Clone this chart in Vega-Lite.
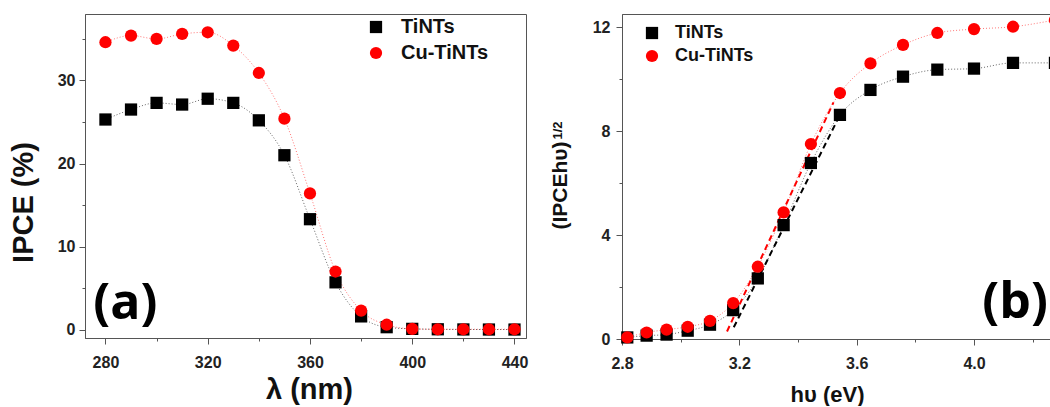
{
  "$schema": "https://vega.github.io/schema/vega-lite/v6.json",
  "background": "white",
  "padding": {"left": 8, "top": 13, "right": 0, "bottom": 0},
  "spacing": 96,
  "bounds": "flush",
  "resolve": {"scale": {"color": "independent", "shape": "independent"}},
  "config": {
    "view": {"stroke": "#555", "strokeWidth": 1},
    "axis": {"labelFont": "Liberation Sans", "labelFontWeight": "bold", "labelFontSize": 16, "labelColor": "#222", "titleFont": "Liberation Sans", "titleFontWeight": "bold", "titleColor": "#111", "domainColor": "#555", "tickColor": "#555", "grid": false, "labelFlush": false, "labelOverlap": false},
    "legend": {"labelFont": "Liberation Sans", "labelFontWeight": "bold", "labelColor": "#111"}
  },
  "datasets": {
    "a": [
      {"nm": 280, "ipce": 25.3, "s": "TiNTs"}, {"nm": 290, "ipce": 26.5, "s": "TiNTs"}, {"nm": 300, "ipce": 27.3, "s": "TiNTs"}, {"nm": 310, "ipce": 27.1, "s": "TiNTs"}, {"nm": 320, "ipce": 27.8, "s": "TiNTs"}, {"nm": 330, "ipce": 27.3, "s": "TiNTs"}, {"nm": 340, "ipce": 25.2, "s": "TiNTs"}, {"nm": 350, "ipce": 21.0, "s": "TiNTs"}, {"nm": 360, "ipce": 13.3, "s": "TiNTs"}, {"nm": 370, "ipce": 5.7, "s": "TiNTs"}, {"nm": 380, "ipce": 1.6, "s": "TiNTs"}, {"nm": 390, "ipce": 0.3, "s": "TiNTs"}, {"nm": 400, "ipce": 0.1, "s": "TiNTs"}, {"nm": 410, "ipce": 0.05, "s": "TiNTs"}, {"nm": 420, "ipce": 0.03, "s": "TiNTs"}, {"nm": 430, "ipce": 0.02, "s": "TiNTs"}, {"nm": 440, "ipce": 0.02, "s": "TiNTs"},
      {"nm": 280, "ipce": 34.6, "s": "Cu-TiNTs"}, {"nm": 290, "ipce": 35.4, "s": "Cu-TiNTs"}, {"nm": 300, "ipce": 35.0, "s": "Cu-TiNTs"}, {"nm": 310, "ipce": 35.6, "s": "Cu-TiNTs"}, {"nm": 320, "ipce": 35.8, "s": "Cu-TiNTs"}, {"nm": 330, "ipce": 34.2, "s": "Cu-TiNTs"}, {"nm": 340, "ipce": 30.9, "s": "Cu-TiNTs"}, {"nm": 350, "ipce": 25.4, "s": "Cu-TiNTs"}, {"nm": 360, "ipce": 16.4, "s": "Cu-TiNTs"}, {"nm": 370, "ipce": 7.0, "s": "Cu-TiNTs"}, {"nm": 380, "ipce": 2.3, "s": "Cu-TiNTs"}, {"nm": 390, "ipce": 0.6, "s": "Cu-TiNTs"}, {"nm": 400, "ipce": 0.1, "s": "Cu-TiNTs"}, {"nm": 410, "ipce": 0.05, "s": "Cu-TiNTs"}, {"nm": 420, "ipce": 0.05, "s": "Cu-TiNTs"}, {"nm": 430, "ipce": 0.05, "s": "Cu-TiNTs"}, {"nm": 440, "ipce": 0.05, "s": "Cu-TiNTs"}
    ],
    "b": [
      {"ev": 2.818, "v": 0.06, "s": "TiNTs"}, {"ev": 2.884, "v": 0.13, "s": "TiNTs"}, {"ev": 2.952, "v": 0.17, "s": "TiNTs"}, {"ev": 3.024, "v": 0.32, "s": "TiNTs"}, {"ev": 3.100, "v": 0.55, "s": "TiNTs"}, {"ev": 3.179, "v": 1.11, "s": "TiNTs"}, {"ev": 3.263, "v": 2.33, "s": "TiNTs"}, {"ev": 3.351, "v": 4.38, "s": "TiNTs"}, {"ev": 3.444, "v": 6.77, "s": "TiNTs"}, {"ev": 3.543, "v": 8.62, "s": "TiNTs"}, {"ev": 3.647, "v": 9.58, "s": "TiNTs"}, {"ev": 3.758, "v": 10.09, "s": "TiNTs"}, {"ev": 3.875, "v": 10.36, "s": "TiNTs"}, {"ev": 4.000, "v": 10.40, "s": "TiNTs"}, {"ev": 4.133, "v": 10.62, "s": "TiNTs"}, {"ev": 4.276, "v": 10.62, "s": "TiNTs"},
      {"ev": 2.818, "v": 0.06, "s": "Cu-TiNTs"}, {"ev": 2.884, "v": 0.25, "s": "Cu-TiNTs"}, {"ev": 2.952, "v": 0.36, "s": "Cu-TiNTs"}, {"ev": 3.024, "v": 0.47, "s": "Cu-TiNTs"}, {"ev": 3.100, "v": 0.70, "s": "Cu-TiNTs"}, {"ev": 3.179, "v": 1.38, "s": "Cu-TiNTs"}, {"ev": 3.263, "v": 2.78, "s": "Cu-TiNTs"}, {"ev": 3.351, "v": 4.87, "s": "Cu-TiNTs"}, {"ev": 3.444, "v": 7.5, "s": "Cu-TiNTs"}, {"ev": 3.543, "v": 9.46, "s": "Cu-TiNTs"}, {"ev": 3.647, "v": 10.6, "s": "Cu-TiNTs"}, {"ev": 3.758, "v": 11.31, "s": "Cu-TiNTs"}, {"ev": 3.875, "v": 11.77, "s": "Cu-TiNTs"}, {"ev": 4.000, "v": 11.92, "s": "Cu-TiNTs"}, {"ev": 4.133, "v": 12.01, "s": "Cu-TiNTs"}, {"ev": 4.276, "v": 12.27, "s": "Cu-TiNTs"}
    ],
    "fit": [
      {"ev": 3.181, "v": 0.45, "s": "TiNTs"}, {"ev": 3.533, "v": 8.39, "s": "TiNTs"},
      {"ev": 3.158, "v": 0.29, "s": "Cu-TiNTs"}, {"ev": 3.521, "v": 9.1, "s": "Cu-TiNTs"}
    ]
  },
  "hconcat": [
    {
      "width": 441,
      "height": 324,
      "layer": [
        {
          "data": {"name": "a"},
          "transform": [{"filter": "datum.s === 'TiNTs'"}],
          "mark": {"type": "line", "strokeDash": [1, 2], "strokeWidth": 1, "color": "#666", "interpolate": "monotone"},
          "encoding": {
            "x": {"field": "nm", "type": "quantitative", "scale": {"domain": [272, 444.5], "nice": false, "zero": false},
              "axis": {"title": "λ (nm)", "values": [280, 300, 320, 340, 360, 380, 400, 420, 440], "labelExpr": "datum.value % 40 === 0 ? datum.label : ''", "tickSize": {"condition": {"test": "datum.value % 40 === 0", "value": 6}, "value": 3}, "labelPadding": 10, "titleFontSize": 29, "titlePadding": 5, "titleX": 224}},
            "y": {"field": "ipce", "type": "quantitative", "scale": {"domain": [-1, 38], "nice": false, "zero": false},
              "axis": {"title": "IPCE (%)", "values": [0, 5, 10, 15, 20, 25, 30, 35], "labelExpr": "datum.value % 10 === 0 ? datum.label : ''", "tickSize": {"condition": {"test": "datum.value % 10 === 0", "value": 6}, "value": 3}, "labelPadding": 4, "titleFontSize": 29, "titleX": -62, "titleY": 188, "titleBaseline": "middle"}}
          }
        },
        {
          "data": {"name": "a"},
          "transform": [{"filter": "datum.s === 'Cu-TiNTs'"}],
          "mark": {"type": "line", "strokeDash": [1, 2], "strokeWidth": 1, "color": "#ff7777", "interpolate": "monotone"},
          "encoding": {
            "x": {"field": "nm", "type": "quantitative"},
            "y": {"field": "ipce", "type": "quantitative"}
          }
        },
        {
          "data": {"name": "a"},
          "mark": {"type": "point", "filled": true, "opacity": 1, "size": 150, "strokeWidth": 0},
          "encoding": {
            "x": {"field": "nm", "type": "quantitative"},
            "y": {"field": "ipce", "type": "quantitative"},
            "color": {"field": "s", "type": "nominal", "scale": {"domain": ["TiNTs", "Cu-TiNTs"], "range": ["#000000", "#ff0000"]},
              "legend": {"title": null, "orient": "none", "legendX": 281, "legendY": 3, "padding": 0, "labelFontSize": 20, "symbolSize": 150, "symbolStrokeWidth": 0, "labelOffset": 15, "rowPadding": 6}},
            "shape": {"field": "s", "type": "nominal", "scale": {"domain": ["TiNTs", "Cu-TiNTs"], "range": ["square", "circle"]},
              "legend": {"title": null, "orient": "none", "legendX": 281, "legendY": 3, "padding": 0, "labelFontSize": 20, "symbolSize": 150, "symbolStrokeWidth": 0, "labelOffset": 15, "rowPadding": 6}}
          }
        },
        {
          "data": {"values": [{"nm": 287.8, "ipce": 3.1, "t": "(a)"}]},
          "mark": {"type": "text", "font": "Open Sans", "fontSize": 50, "fontWeight": "bold", "baseline": "middle", "align": "center", "color": "#000"},
          "encoding": {
            "x": {"field": "nm", "type": "quantitative"},
            "y": {"field": "ipce", "type": "quantitative"},
            "text": {"field": "t"}
          }
        }
      ]
    },
    {
      "width": 440,
      "height": 325,
      "resolve": {"axis": {"y": "independent"}},
      "layer": [
        {
          "data": {"name": "b"},
          "transform": [{"filter": "datum.s === 'TiNTs'"}],
          "mark": {"type": "line", "strokeDash": [1, 2], "strokeWidth": 1, "color": "#666", "interpolate": "monotone"},
          "encoding": {
            "x": {"field": "ev", "type": "quantitative", "scale": {"domain": [2.8, 4.3], "nice": false, "zero": false},
              "axis": {"title": "hυ (eV)", "values": [2.8, 3.0, 3.2, 3.4, 3.6, 3.8, 4.0, 4.2], "format": ".1f", "labelExpr": "round(datum.value * 10) % 4 === 0 ? datum.label : ''", "tickSize": {"condition": {"test": "round(datum.value * 10) % 4 === 0", "value": 6}, "value": 3}, "labelPadding": 10, "titleFontSize": 22, "titlePadding": 13, "titleX": 205}},
            "y": {"field": "v", "type": "quantitative", "scale": {"domain": [0, 12.5], "nice": false, "zero": false},
              "axis": {"title": "(IPCEhυ)", "values": [0, 2, 4, 6, 8, 10, 12], "labelExpr": "datum.value % 4 === 0 ? datum.label : ''", "tickSize": {"condition": {"test": "datum.value % 4 === 0", "value": 6}, "value": 3}, "labelPadding": 6, "titleFontSize": 21, "titleX": -62, "titleY": 171, "titleBaseline": "middle"}}
          }
        },
        {
          "data": {"name": "b"},
          "transform": [{"filter": "datum.s === 'Cu-TiNTs'"}],
          "mark": {"type": "line", "strokeDash": [1, 2], "strokeWidth": 1, "color": "#ff7777", "interpolate": "monotone"},
          "encoding": {
            "x": {"field": "ev", "type": "quantitative"},
            "y": {"field": "v", "type": "quantitative", "axis": null}
          }
        },
        {
          "data": {"name": "fit"},
          "transform": [{"filter": "datum.s === 'TiNTs'"}],
          "mark": {"type": "line", "strokeDash": [6, 4], "strokeWidth": 2, "color": "#000000"},
          "encoding": {
            "x": {"field": "ev", "type": "quantitative"},
            "y": {"field": "v", "type": "quantitative",
              "axis": {"title": "1/2", "orient": "left", "labels": false, "ticks": false, "domain": false, "titleFontSize": 13, "titleX": -65, "titleY": 116, "titleBaseline": "middle"}}
          }
        },
        {
          "data": {"name": "fit"},
          "transform": [{"filter": "datum.s === 'Cu-TiNTs'"}],
          "mark": {"type": "line", "strokeDash": [6, 4], "strokeWidth": 2, "color": "#ff0000"},
          "encoding": {
            "x": {"field": "ev", "type": "quantitative"},
            "y": {"field": "v", "type": "quantitative", "axis": null}
          }
        },
        {
          "data": {"name": "b"},
          "mark": {"type": "point", "filled": true, "opacity": 1, "size": 150, "strokeWidth": 0},
          "encoding": {
            "x": {"field": "ev", "type": "quantitative"},
            "y": {"field": "v", "type": "quantitative", "axis": null},
            "color": {"field": "s", "type": "nominal", "scale": {"domain": ["TiNTs", "Cu-TiNTs"], "range": ["#000000", "#ff0000"]},
              "legend": {"title": null, "orient": "none", "legendX": 21, "legendY": 10, "padding": 0, "labelFontSize": 18, "symbolSize": 150, "symbolStrokeWidth": 0, "labelOffset": 14, "rowPadding": 5}},
            "shape": {"field": "s", "type": "nominal", "scale": {"domain": ["TiNTs", "Cu-TiNTs"], "range": ["square", "circle"]},
              "legend": {"title": null, "orient": "none", "legendX": 21, "legendY": 10, "padding": 0, "labelFontSize": 18, "symbolSize": 150, "symbolStrokeWidth": 0, "labelOffset": 14, "rowPadding": 5}}
          }
        },
        {
          "data": {"values": [{"ev": 4.14, "v": 1.4, "t": "(b)"}]},
          "mark": {"type": "text", "font": "Open Sans", "fontSize": 50, "fontWeight": "bold", "baseline": "middle", "align": "center", "color": "#000"},
          "encoding": {
            "x": {"field": "ev", "type": "quantitative"},
            "y": {"field": "v", "type": "quantitative", "axis": null},
            "text": {"field": "t"}
          }
        }
      ]
    }
  ]
}
